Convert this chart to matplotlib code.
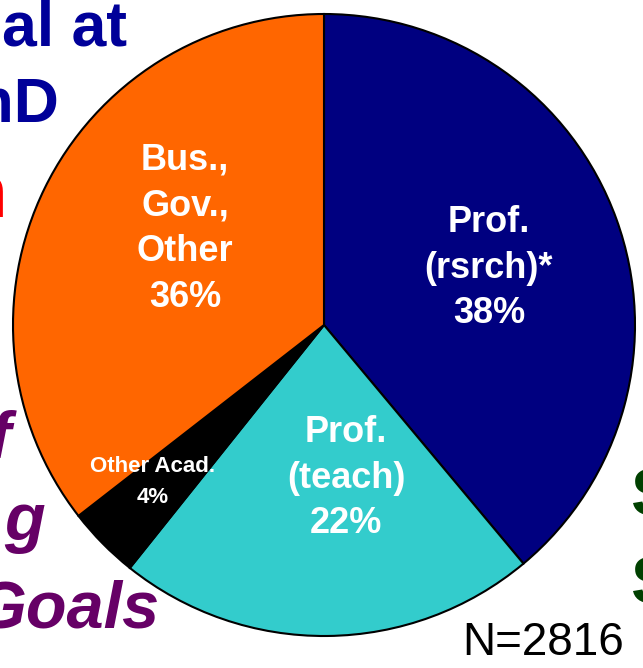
import matplotlib
matplotlib.use("Agg")
import matplotlib.pyplot as plt

# pie data, clockwise from 12 o'clock
labels = ["Prof.\n(rsrch)*", "Prof.\n(teach)", "Other Acad.", "Bus.,\nGov.,\nOther"]
pct_text = ["38%", "22%", "4%", "36%"]
shares = [38.9, 21.8, 3.75, 35.5]   # slice sizes as drawn in the picture
colors = ["#000080", "#33CCCC", "#000000", "#FF6600"]
n_total = 2816

W, H = 643, 668

def py(y):
    # pixel row (from top) -> data y
    return H - y

fig = plt.figure(figsize=(W / 100, H / 100), dpi=100)
ax = fig.add_axes([0, 0, 1, 1])

ax.pie(shares, colors=colors, startangle=90, counterclock=False,
       center=(324, py(325)), radius=311,
       wedgeprops=dict(edgecolor="black", linewidth=1.5))
ax.set_xlim(0, W)
ax.set_ylim(0, H)
ax.set_aspect("auto")
ax.axis("off")

font = "Liberation Sans"

# slice labels
lab_pos = [(489, 268), (346, 478), (153, 482), (185, 229)]
for lab, p, (x, y) in zip(labels, pct_text, lab_pos):
    small = p == "4%"
    ax.text(x, py(y), lab + "\n" + p, ha="center", va="center", color="white",
            fontsize=16 if small else 26, fontweight="bold", family=font,
            linespacing=1.62 if small else 1.4)

# slide text fragments around the pie
ax.text(2, py(45), "al at", ha="left", va="baseline", color="#000099",
        fontsize=45, fontweight="bold", family=font)
ax.text(60, py(122), "PhD", ha="right", va="baseline", color="#000099",
        fontsize=45, fontweight="bold", family=font)
ax.text(8, py(217), "n", ha="right", va="baseline", color="#FF0000",
        fontsize=55, fontweight="bold", family=font)

purple = "#660066"
ax.text(11, py(458), "f", ha="right", va="baseline", color=purple,
        fontsize=48, fontweight="bold", style="italic", family=font)
ax.text(45, py(540), "g", ha="right", va="baseline", color=purple,
        fontsize=48, fontweight="bold", style="italic", family=font)
ax.text(160, py(628), "Goals", ha="right", va="baseline", color=purple,
        fontsize=48, fontweight="bold", style="italic", family=font)

green = "#004000"
ax.text(630, py(515), "S", ha="left", va="baseline", color=green,
        fontsize=48, fontweight="bold", family=font)
ax.text(630, py(604), "S", ha="left", va="baseline", color=green,
        fontsize=48, fontweight="bold", family=font)

ax.text(462, py(655), "N=" + str(n_total), ha="left", va="baseline",
        color="black", fontsize=33, family=font)

fig.savefig("out.png", dpi=100)
